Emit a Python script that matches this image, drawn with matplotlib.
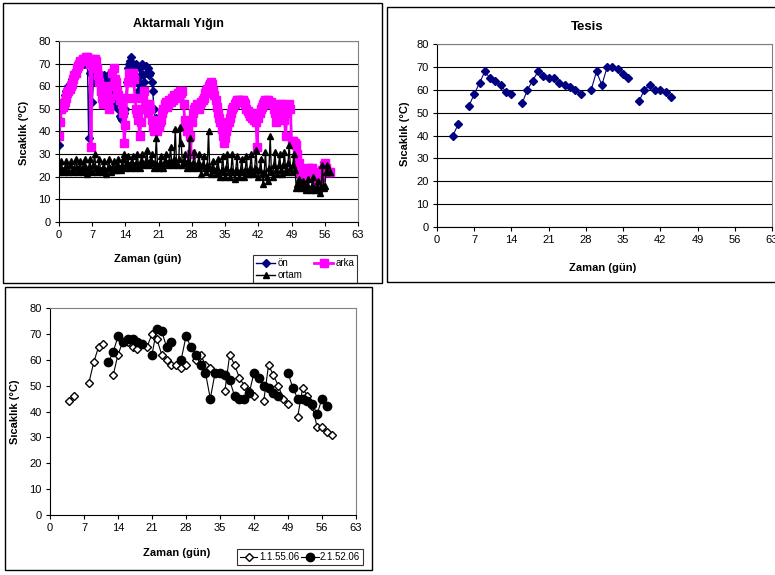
import numpy as np
import matplotlib
matplotlib.use("Agg")
import matplotlib.pyplot as plt
from matplotlib.patches import Rectangle

plt.rcParams['font.family'] = ['Liberation Sans', 'DejaVu Sans']

# ********** Data ***********************************************************

# Turned pile, readings every 6 hours (temperature in degC)
arka = [
    38, 44, 50, 51, 52, 53, 55, 57,   # days 0-1
    58, 59, 60, 61, 63, 65, 66, 68,   # 2-3
    69, 70, 71, 71, 72, 72, 72, 73,   # 4-5
    73, 72, 70, 33, 70, 72, 72, 71,   # 6-7
    68, 65, 62, 58, 55, 52, 56, 60,   # 8-9
    57, 52, 50, 55, 60, 66, 68, 63,   # 10-11
    62, 58, 56, 54, 55, 52, 48, 35,   # 12-13
    43, 55, 62, 66, 65, 62, 66, 63,   # 14-15
    55, 50, 48, 45, 38, 44, 50, 55,   # 16-17
    58, 52, 50, 48, 52, 50, 45, 42,   # 18-19
    40, 41, 43, 40, 42, 44, 45, 48,   # 20-21
    50, 52, 53, 51, 52, 54, 53, 55,   # 22-23
    54, 56, 55, 56, 57, 56, 58, 57,   # 24-25
    58, 52, 45, 42, 40, 42, 38, 30,   # 26-27
    44, 48, 50, 51, 52, 51, 50, 52,   # 28-29
    53, 54, 55, 57, 58, 59, 60, 61,   # 30-31
    62, 61, 58, 56, 54, 51, 48, 46,   # 32-33
    44, 41, 38, 35, 37, 40, 42, 44,   # 34-35
    46, 48, 50, 51, 52, 53, 54, 54,   # 36-37
    54, 53, 54, 54, 53, 52, 50, 49,   # 38-39
    48, 47, 48, 46, 45, 46, 44, 33,   # 40-41
    46, 48, 50, 51, 52, 53, 54, 54,   # 42-43
    54, 53, 52, 53, 52, 50, 48, 44,   # 44-45
    45, 48, 50, 52, 52, 51, 45, 38,   # 46-47
    48, 51, 52, 50, 36, 36, 35, 35,   # 48-49
    34, 30, 26, 22, 20, 21, 22, 23,   # 50-51
    22, 23, 24, 24, 23, 24, 22, 21,   # 52-53
    20, 19, 17, 18, 20, 22, 23, 25,   # 54-55
    26, 24, 22, 22, 22]               # 56-57

ortam = [
    22, 24, 27, 23, 22, 24, 27, 24,   # days 0-1
    22, 25, 27, 23, 22, 24, 28, 24,   # 2-3
    22, 24, 27, 23, 22, 25, 28, 24,   # 4-5
    21, 24, 28, 23, 22, 25, 30, 24,   # 6-7
    22, 24, 28, 23, 22, 24, 27, 23,   # 8-9
    21, 24, 28, 24, 22, 24, 27, 23,   # 10-11
    23, 25, 28, 24, 23, 25, 28, 30,   # 12-13
    24, 26, 29, 25, 24, 26, 29, 25,   # 14-15
    24, 26, 30, 25, 24, 27, 30, 26,   # 16-17
    25, 27, 32, 26, 25, 27, 30, 26,   # 18-19
    24, 26, 37, 25, 24, 26, 29, 25,   # 20-21
    24, 27, 30, 26, 25, 27, 33, 26,   # 22-23
    25, 28, 41, 26, 25, 28, 42, 35,   # 24-25
    25, 27, 30, 26, 24, 27, 37, 25,   # 26-27
    24, 26, 31, 25, 24, 26, 30, 25,   # 28-29
    21, 25, 29, 24, 22, 25, 40, 24,   # 30-31
    21, 24, 27, 23, 21, 24, 28, 22,   # 32-33
    20, 23, 29, 22, 20, 24, 30, 22,   # 34-35
    20, 23, 30, 22, 19, 23, 29, 22,   # 36-37
    20, 23, 28, 22, 20, 23, 29, 21,   # 38-39
    21, 24, 30, 22, 21, 24, 32, 23,   # 40-41
    20, 23, 28, 21, 17, 22, 31, 20,   # 42-43
    18, 24, 38, 22, 20, 25, 31, 23,   # 44-45
    21, 25, 30, 23, 21, 25, 31, 23,   # 46-47
    22, 26, 34, 24, 22, 25, 30, 23,   # 48-49
    15, 17, 19, 16, 15, 16, 18, 15,   # 50-51
    14, 16, 19, 15, 14, 16, 20, 15,   # 52-53
    14, 15, 18, 14, 13, 16, 25, 15,   # 54-55
    16, 22, 25, 22, 22]               # 56-57

on = [
    34, 45, 50, 52, 54, 56, 58, 59,   # days 0-1
    60, 61, 62, 63, 64, 65, 66, 67,   # 2-3
    68, 69, 69, 70, 70, 70, 71, 70,   # 4-5
    70, 37, 66, 70, 53, 62, 66, 70,   # 6-7
    66, 63, 61, 60, 58, 62, 65, 64,   # 8-9
    62, 65, 63, 60, 58, 56, 53, 52,   # 10-11
    55, 52, 50, 47, 46, 45, 47, 48,   # 12-13
    50, 62, 68, 70, 71, 73, 70, 68,   # 14-15
    65, 70, 62, 58, 68, 60, 70, 65,   # 16-17
    62, 69, 66, 68, 65, 66, 62, 58,   # 18-19
    50, 45, 46]                       # 20

step = 0.25  # days between readings
arka_gun = np.arange(len(arka)) * step
ortam_gun = np.arange(len(ortam)) * step
on_gun = np.arange(len(on)) * step

# Plant (daily readings, nan = no reading)
nan = np.nan
tesis_gun = list(range(3, 45))
tesis = [40, 45, nan, 53, 58, 63, 68, 65, 64, 62,
         59, 58, nan, 54, 60, 64, 68, 66, 65, 65,
         63, 62, 61, 60, 58, nan, 60, 68, 62, 70,
         70, 69, 67, 65, nan, 55, 60, 62, 60, 60,
         59, 57]

# Two windrows (daily readings)
seri1_gun = list(range(4, 59))
seri1 = [44, 46, nan, nan, 51, 59, 65, 66, nan, 54,
         62, 67, 67, 65, 64, 66, 65, 70, 68, 62,
         60, 58, 58, 57, 58, nan, 60, 62, 58, 57,
         nan, nan, 48, 62, 58, 53, 50, 48, 46, nan,
         44, 58, 54, 50, 45, 43, nan, 38, 49, 46,
         42, 34, 34, 32, 31]
seri2_gun = list(range(12, 58))
seri2 = [59, 63, 69, 67, 68, 68, 67, 66, nan, 62,
         72, 71, 65, 67, nan, 60, 69, 65, 62, 58,
         55, 45, 55, 55, 54, 52, 46, 45, 45, 47,
         55, 53, 50, 49, 47, 46, nan, 55, 49, 45,
         45, 44, 43, 39, 45, 42]

# ********** Helpers ********************************************************

W, H = 775.0, 575.0
fig = plt.figure(figsize=(W / 100, H / 100), dpi=100)


def px_axes(x0, y0, x1, y1):
    return fig.add_axes([x0 / W, 1 - y1 / H, (x1 - x0) / W, (y1 - y0) / H])


def frame(x0, y0, x1, y1):
    fig.patches.append(Rectangle((x0 / W, 1 - y1 / H), (x1 - x0) / W, (y1 - y0) / H,
                                 transform=fig.transFigure, fill=False,
                                 edgecolor='black', linewidth=1.0))


def text(x, y, s, **kw):
    fig.text(x / W, 1 - y / H, s, ha='center', va='center', **kw)


def style_axes(ax, grid=True):
    ax.set_xlim(0, 63)
    ax.set_ylim(0, 80)
    ax.set_xticks(np.arange(0, 64, 7))
    ax.set_yticks(np.arange(0, 81, 10))
    ax.tick_params(direction='out', length=3, width=0.8, labelsize=8, pad=3)
    for side in ['top', 'right']:
        ax.spines[side].set_color('#808080')
    for side in ['left', 'bottom']:
        ax.spines[side].set_color('black')
    if grid:
        ax.yaxis.grid(True, color='black', linewidth=0.8)
        ax.set_axisbelow(True)


# ********** Turned pile ****************************************************

frame(3, 3, 382, 283)
ax1 = px_axes(59, 41, 358, 222)
style_axes(ax1)
l_on, = ax1.plot(on_gun, on, '-D', color='#000080', ms=4, lw=1, label='ön')
l_arka, = ax1.plot(arka_gun, arka, '-s', color='#FF00FF', ms=6, lw=2, label='arka')
l_ortam, = ax1.plot(ortam_gun, ortam, '-^', color='black', ms=5, lw=1, label='ortam')
text(178, 24, 'Aktarmalı Yığın', fontsize=9, fontweight='bold')
text(24, 133, 'Sıcaklık (ºC)', fontsize=8, fontweight='bold', rotation=90)
text(148, 259, 'Zaman (gün)', fontsize=8, fontweight='bold')
leg = ax1.legend(handles=[l_on, l_ortam, l_arka], ncol=2, loc='lower left',
                 bbox_to_anchor=(253 / W, 1 - 283 / H), bbox_transform=fig.transFigure,
                 borderaxespad=0, fontsize=7, handlelength=2.0, columnspacing=1.2,
                 borderpad=0.3, labelspacing=0.2, handletextpad=0.2, fancybox=False)
leg.get_frame().set_edgecolor('black')
leg.get_frame().set_linewidth(0.8)

# ********** Plant **********************************************************

frame(387, 7, 777, 282)
ax2 = px_axes(437, 44, 772, 227)
style_axes(ax2)
ax2.plot(tesis_gun, tesis, '-D', color='#000080', ms=4, lw=0.8)
text(587, 27, 'Tesis', fontsize=9.5, fontweight='bold')
text(405, 134, 'Sıcaklık (°C)', fontsize=8, fontweight='bold', rotation=90)
text(603, 268, 'Zaman (gün)', fontsize=8, fontweight='bold')

# ********** Windrows *******************************************************

frame(5, 287, 372, 570)
ax3 = px_axes(50, 308, 356, 515)
style_axes(ax3, grid=False)
l_s1, = ax3.plot(seri1_gun, seri1, '-D', color='black', mfc='white', mec='black',
                 ms=4.5, lw=0.8, label='1.1.55.06')
l_s2, = ax3.plot(seri2_gun, seri2, '-o', color='black', ms=6, lw=0.8, label='2.1.52.06')
text(15, 412, 'Sıcaklık (°C)', fontsize=8, fontweight='bold', rotation=90)
text(177, 553, 'Zaman (gün)', fontsize=8, fontweight='bold')
leg3 = ax3.legend(handles=[l_s1, l_s2], ncol=2, loc='lower left',
                  bbox_to_anchor=(237 / W, 1 - 565 / H), bbox_transform=fig.transFigure,
                  borderaxespad=0, fontsize=7, handlelength=1.8, columnspacing=0.2,
                  borderpad=0.3, handletextpad=0.15, fancybox=False)
leg3.get_frame().set_edgecolor('black')
leg3.get_frame().set_linewidth(0.8)

fig.savefig('out.png', dpi=100)
